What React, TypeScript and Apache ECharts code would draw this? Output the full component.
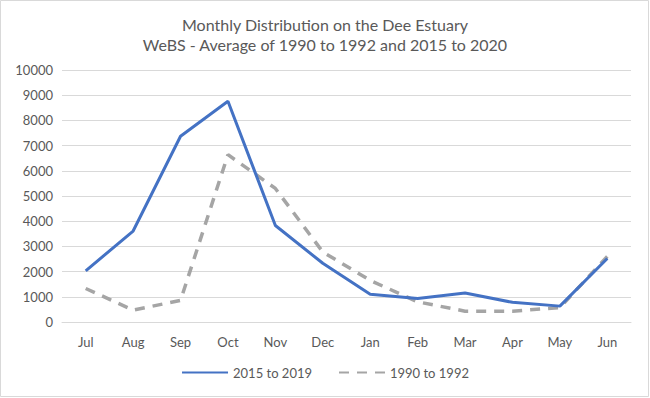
import React, { useEffect, useRef } from "react";
import * as echarts from "echarts";

const months = ["Jul", "Aug", "Sep", "Oct", "Nov", "Dec", "Jan", "Feb", "Mar", "Apr", "May", "Jun"];
const recent = [2030, 3610, 7370, 8760, 3830, 2330, 1100, 930, 1150, 780, 630, 2520];
const early = [1330, 470, 860, 6640, 5300, 2780, 1650, 800, 430, 430, 570, 2600];
const seriesNames = ["2015 to 2019", "1990 to 1992"];
const titleLines = ["Monthly Distribution on the Dee Estuary", "WeBS - Average of 1990 to 1992 and 2015 to 2020"];

const FONT = "Lato, 'Open Sans', sans-serif";

export default function App() {
  const ref = useRef<HTMLDivElement>(null);
  useEffect(() => {
    if (!ref.current) return;
    const chart = echarts.init(ref.current, null, { renderer: "svg" });
    chart.setOption({
      animation: false,
      backgroundColor: "#ffffff",
      textStyle: { fontFamily: FONT },
      title: {
        text: titleLines.join("\n"),
        left: "center",
        top: 9,
        textStyle: { fontSize: 16, fontWeight: "normal", color: "#595959", lineHeight: 20, fontFamily: FONT },
      },
      graphic: [
        {
          type: "rect",
          shape: { x: 0.5, y: 0.5, width: 648, height: 396 },
          style: { fill: "none", stroke: "#d9d9d9", lineWidth: 1 },
          silent: true,
        },
      ],
      legend: {
        bottom: 14,
        left: "center",
        itemWidth: 46,
        itemHeight: 10,
        itemGap: 26,
        itemStyle: { opacity: 0 },
        textStyle: { fontSize: 13, color: "#595959", fontFamily: FONT },
        data: seriesNames,
      },
      grid: { left: 62, right: 19, top: 70, bottom: 76, containLabel: false },
      xAxis: {
        type: "category",
        data: months,
        boundaryGap: true,
        axisLine: { show: true, lineStyle: { color: "#d9d9d9" } },
        axisTick: { show: false },
        axisLabel: { color: "#595959", fontSize: 13, margin: 13, fontFamily: FONT },
      },
      yAxis: {
        type: "value",
        min: 0,
        max: 10000,
        interval: 1000,
        axisLine: { show: false },
        axisTick: { show: false },
        splitLine: { lineStyle: { color: "#d9d9d9", width: 1 } },
        axisLabel: { color: "#595959", fontSize: 13, margin: 9, fontFamily: FONT, formatter: (v: number) => String(v) },
      },
      series: [
        {
          name: seriesNames[0],
          type: "line",
          data: recent,
          symbol: "none",
          lineStyle: { color: "#4472c4", width: 3 },
          itemStyle: { color: "#4472c4" },
          z: 3,
        },
        {
          name: seriesNames[1],
          type: "line",
          data: early,
          symbol: "none",
          lineStyle: { color: "#a5a5a5", width: 3.5, type: [10, 8] },
          itemStyle: { color: "#a5a5a5" },
          z: 2,
        },
      ],
    });
    return () => chart.dispose();
  }, []);
  return (
    <div
      ref={ref}
      style={{ position: "fixed", left: 0, top: 0, width: 650, height: 398 }}
    />
  );
}
